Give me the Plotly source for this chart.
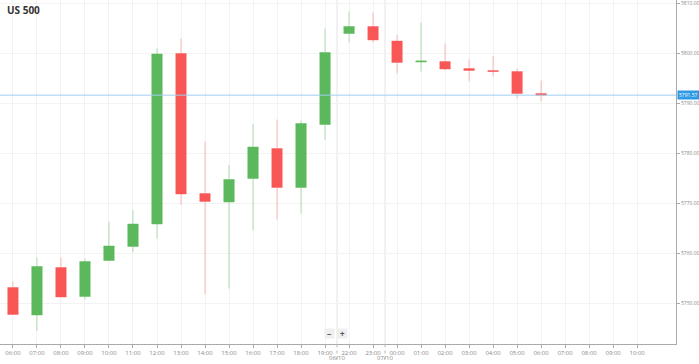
import plotly.graph_objects as go

# ---- data ----
axis_labels = ["06:00", "07:00", "08:00", "09:00", "10:00", "11:00", "12:00", "13:00",
               "14:00", "15:00", "16:00", "17:00", "18:00", "19:00", "22:00", "23:00",
               "00:00", "01:00", "02:00", "03:00", "04:00", "05:00", "06:00", "07:00",
               "08:00", "09:00", "10:00"]
opens = [5753.1, 5747.6, 5757.1, 5751.3, 5758.5, 5761.3, 5765.8, 5799.9, 5771.9, 5770.2,
         5774.9, 5780.9, 5773.1, 5785.7, 5803.9, 5805.3, 5802.4, 5798.2, 5798.3, 5796.9,
         5796.5, 5796.3, 5791.9]
highs = [5754.3, 5759.1, 5759.1, 5758.9, 5766.3, 5768.6, 5800.9, 5802.9, 5782.3, 5777.6,
         5785.8, 5786.7, 5786.5, 5804.9, 5808.3, 5808.1, 5803.6, 5806.1, 5801.9, 5798.7,
         5799.4, 5796.9, 5794.5]
lows = [5747.6, 5744.4, 5751.1, 5750.7, 5758.3, 5760.1, 5762.9, 5769.6, 5751.8, 5752.9,
        5764.6, 5766.7, 5767.9, 5782.6, 5802.1, 5802.1, 5795.9, 5796.3, 5796.5, 5794.3,
        5795.3, 5790.9, 5790.3]
closes = [5747.7, 5757.3, 5751.2, 5758.3, 5761.4, 5765.8, 5799.8, 5771.8, 5770.3, 5774.7,
          5781.2, 5773.1, 5785.9, 5800.1, 5805.3, 5802.6, 5798.1, 5798.4, 5796.8, 5796.5,
          5796.3, 5791.9, 5791.57]
y_ticks = [5750, 5760, 5770, 5780, 5790, 5800, 5810]
current_price = 5791.57
day_breaks = [(13.5, "06/10"), (15.5, "07/10")]

x_idx = list(range(len(opens)))
tick_idx = list(range(len(axis_labels)))

fig = go.Figure()
fig.add_trace(go.Candlestick(
    x=x_idx, open=opens, high=highs, low=lows, close=closes,
    increasing=dict(line=dict(color="rgba(92,184,92,0.45)", width=1), fillcolor="#5cb85c"),
    decreasing=dict(line=dict(color="rgba(250,85,85,0.4)", width=1), fillcolor="#f95656"),
    whiskerwidth=0, showlegend=False, hoverinfo="skip",
))

shapes = []
for xb, _ in day_breaks:
    shapes.append(dict(type="line", xref="x", yref="paper", x0=xb, x1=xb, y0=0, y1=1,
                       line=dict(color="#e3e3e3", width=1), layer="below"))
    shapes.append(dict(type="line", xref="x", yref="paper", x0=xb, x1=xb, y0=-0.045, y1=0,
                       line=dict(color="#bbbbbb", width=1, dash="dot")))
shapes.append(dict(type="line", xref="paper", yref="y", x0=0, x1=1, y0=current_price,
                   y1=current_price, line=dict(color="#9fcff0", width=1)))

annotations = [
    dict(text="<b>US 500</b>", xref="paper", yref="paper", x=0.008, y=0.972,
         xanchor="left", yanchor="middle", showarrow=False,
         font=dict(size=10, color="#333333")),
    dict(text=f"{current_price:.2f}", xref="paper", yref="y", x=1.001, y=current_price,
         xanchor="left", yanchor="middle", showarrow=False, bgcolor="#2f9ae4",
         borderpad=1, font=dict(size=5, color="white")),
]
for xb, lab in day_breaks:
    annotations.append(dict(text=lab, xref="x", yref="paper", x=xb, y=-0.041,
                            xanchor="center", yanchor="middle", showarrow=False,
                            font=dict(size=6, color="#888888")))
for xp, sym in [(0.488, "−"), (0.506, "+")]:
    annotations.append(dict(text=f"<b>{sym}</b>", xref="paper", yref="paper", x=xp, y=0.03,
                            xanchor="center", yanchor="middle", showarrow=False,
                            bgcolor="#efefef", width=9, height=9, borderpad=0,
                            font=dict(size=8, color="#555555")))

fig.update_layout(
    width=699, height=364,
    margin=dict(l=0, r=23, t=0, b=20),
    paper_bgcolor="white", plot_bgcolor="white",
    font=dict(family="Open Sans, sans-serif"),
    boxgap=0.375,
    shapes=shapes, annotations=annotations,
    xaxis=dict(
        range=[-0.54, 27.62], rangeslider=dict(visible=False),
        tickmode="array", tickvals=tick_idx, ticktext=axis_labels,
        showgrid=True, gridcolor="#f3f3f3", gridwidth=1,
        showline=True, linecolor="#aaaaaa", linewidth=1,
        ticks="outside", ticklen=3, tickcolor="#aaaaaa",
        tickfont=dict(size=6, color="#888888"), zeroline=False, fixedrange=True,
    ),
    yaxis=dict(
        side="right", range=[5741.8, 5810.6],
        tickmode="array", tickvals=y_ticks, ticktext=[f"{v:.2f}" for v in y_ticks],
        showgrid=True, gridcolor="#f3f3f3", gridwidth=1,
        showline=True, linecolor="#aaaaaa", linewidth=1,
        ticks="outside", ticklen=3, tickcolor="#aaaaaa", ticklabeloverflow="allow",
        tickfont=dict(size=5, color="#888888"), zeroline=False, fixedrange=True,
    ),
)

fig.write_html("out.html", config={"displayModeBar": False},
               post_script="document.body.style.margin='0';document.body.style.overflow='hidden';")
